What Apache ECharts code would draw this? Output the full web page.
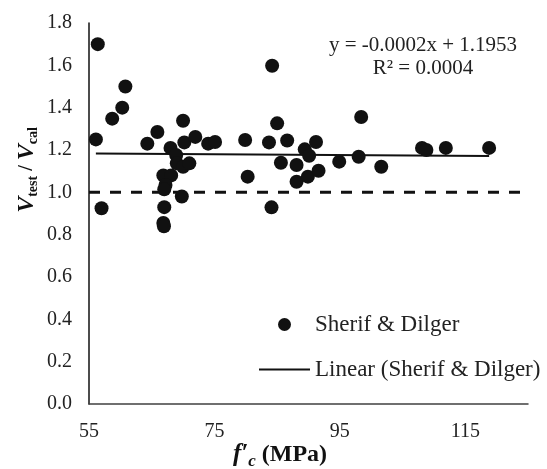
<!DOCTYPE html>
<html lang="en">
<head>
    <meta charset="UTF-8">
    <title>Vtest / Vcal vs f'c</title>
    <script src="https://cdn.jsdelivr.net/npm/echarts@6/dist/echarts.min.js"></script>
    <style>
        * { margin: 0; padding: 0 }
        html, body { width: 100%; height: 100%; background: #fff; }
        #main { width: 547px; height: 469px; }
    </style>
</head>
<body>
<div id="main"></div>
<script type="text/javascript">
    // f'c (MPa) and Vtest/Vcal
    var fc = [56.4, 56.1, 57.0, 58.7, 60.3, 60.8, 64.3, 65.9, 68.0, 66.85,
              68.1, 67.2, 67.0, 67.0, 66.85, 66.95, 68.9, 69.0, 70.0, 71.0,
              70.0, 70.2, 69.8, 71.95, 74.0, 75.1, 79.9, 80.3, 84.2, 83.7,
              84.1, 85.0, 86.6, 85.6, 88.1, 88.1, 89.4, 89.9, 90.1, 91.2,
              91.6, 94.9, 98.0, 98.4, 101.6, 108.1, 108.8, 111.9, 118.8];
    var ratio = [1.70, 1.25, 0.925, 1.348, 1.40, 1.50, 1.23, 1.285, 1.21, 1.08,
                 1.08, 1.035, 1.014, 0.93, 0.855, 0.84, 1.176, 1.137, 1.121, 1.137,
                 1.338, 1.236, 0.98, 1.262, 1.23, 1.238, 1.247, 1.074, 1.598, 1.236,
                 0.929, 1.326, 1.245, 1.14, 1.129, 1.05, 1.203, 1.074, 1.173, 1.238,
                 1.102, 1.145, 1.168, 1.356, 1.121, 1.21, 1.20, 1.21, 1.21];
    // linear trendline end points (y = -0.0002x + 1.1953)
    var trendX = [56.1, 118.8];
    var trendY = [1.184, 1.172];
    // reference line Vtest/Vcal = 1
    var refX = [55, 125];
    var refY = [1, 1];
    var xTicks = [55, 75, 95, 115];

    function pairs(xs, ys) {
        var out = [];
        for (var i = 0; i < xs.length; i++) out.push([xs[i], ys[i]]);
        return out;
    }

    var font = 'Liberation Serif';
    var ink = '#111';
    var chart = echarts.init(document.getElementById('main'));
    chart.setOption({
        animation: false,
        backgroundColor: '#fff',
        textStyle: { fontFamily: font, color: '#222' },
        grid: { left: 89, right: 19, top: 23, bottom: 65 },
        xAxis: {
            type: 'value',
            min: 55,
            max: 125,
            splitLine: { show: false },
            axisTick: { show: false },
            axisLine: { lineStyle: { color: '#404040', width: 1.5 } },
            axisLabel: {
                customValues: xTicks,
                fontFamily: font, fontSize: 20, color: '#222', margin: 18
            }
        },
        yAxis: {
            type: 'value',
            min: 0,
            max: 1.8,
            interval: 0.2,
            splitLine: { show: false },
            axisTick: { show: false },
            axisLine: { show: true, lineStyle: { color: ink, width: 1.5 } },
            axisLabel: {
                fontFamily: font, fontSize: 20, color: '#222', margin: 17,
                formatter: function (v) { return v.toFixed(1); }
            }
        },
        legend: {
            orient: 'vertical',
            left: 253,
            top: 308,
            itemWidth: 51,
            itemHeight: 13,
            itemGap: 22,
            textStyle: { fontFamily: font, fontSize: 23, color: '#222' },
            data: [
                { name: 'Sherif & Dilger', icon: 'circle' },
                { name: 'Linear (Sherif & Dilger)', itemStyle: { opacity: 0 } }
            ]
        },
        graphic: [
            {
                type: 'text', x: 423, y: 45,
                style: {
                    text: 'y = -0.0002x + 1.1953',
                    fontFamily: font, fontSize: 21, fill: '#222',
                    align: 'center', verticalAlign: 'middle'
                }
            },
            {
                type: 'text', x: 423, y: 68,
                style: {
                    text: 'R² = 0.0004',
                    fontFamily: font, fontSize: 21, fill: '#222',
                    align: 'center', verticalAlign: 'middle'
                }
            },
            {
                type: 'text', x: 280, y: 455,
                style: {
                    align: 'center', verticalAlign: 'middle',
                    rich: {
                        f: { fontFamily: font, fontSize: 25, fontStyle: 'italic', fontWeight: 'bold', fill: ink },
                        c: { fontFamily: font, fontSize: 17, fontStyle: 'italic', fontWeight: 'bold', fill: ink, padding: [14, 0, 0, 0] },
                        u: { fontFamily: font, fontSize: 24, fontWeight: 'bold', fill: ink }
                    },
                    text: '{f|f′}{c|c}{u| (MPa)}'
                }
            },
            {
                type: 'text', x: 27, y: 170, rotation: Math.PI / 2,
                style: {
                    align: 'center', verticalAlign: 'middle',
                    rich: {
                        v: { fontFamily: font, fontSize: 24, fontStyle: 'italic', fontWeight: 'bold', fill: ink },
                        s: { fontFamily: font, fontSize: 14, fontWeight: 'bold', fill: ink, padding: [13, 0, 0, 0] },
                        t: { fontFamily: font, fontSize: 20, fontWeight: 'bold', fill: ink }
                    },
                    text: '{v|V}{s|test}{t| / }{v|V}{s|cal}'
                }
            }
        ],
        series: [
            {
                name: 'Sherif & Dilger',
                type: 'scatter',
                symbol: 'circle',
                symbolSize: 14,
                itemStyle: { color: ink, opacity: 1 },
                data: pairs(fc, ratio),
                z: 3
            },
            {
                name: 'Linear (Sherif & Dilger)',
                type: 'line',
                symbol: 'none',
                showSymbol: false,
                lineStyle: { color: ink, width: 2 },
                itemStyle: { color: ink },
                data: pairs(trendX, trendY),
                z: 2
            },
            {
                name: 'ref',
                type: 'line',
                symbol: 'none',
                silent: true,
                lineStyle: { color: ink, width: 3, type: [11, 10] },
                data: pairs(refX, refY),
                z: 1
            }
        ]
    });
</script>
</body>
</html>
